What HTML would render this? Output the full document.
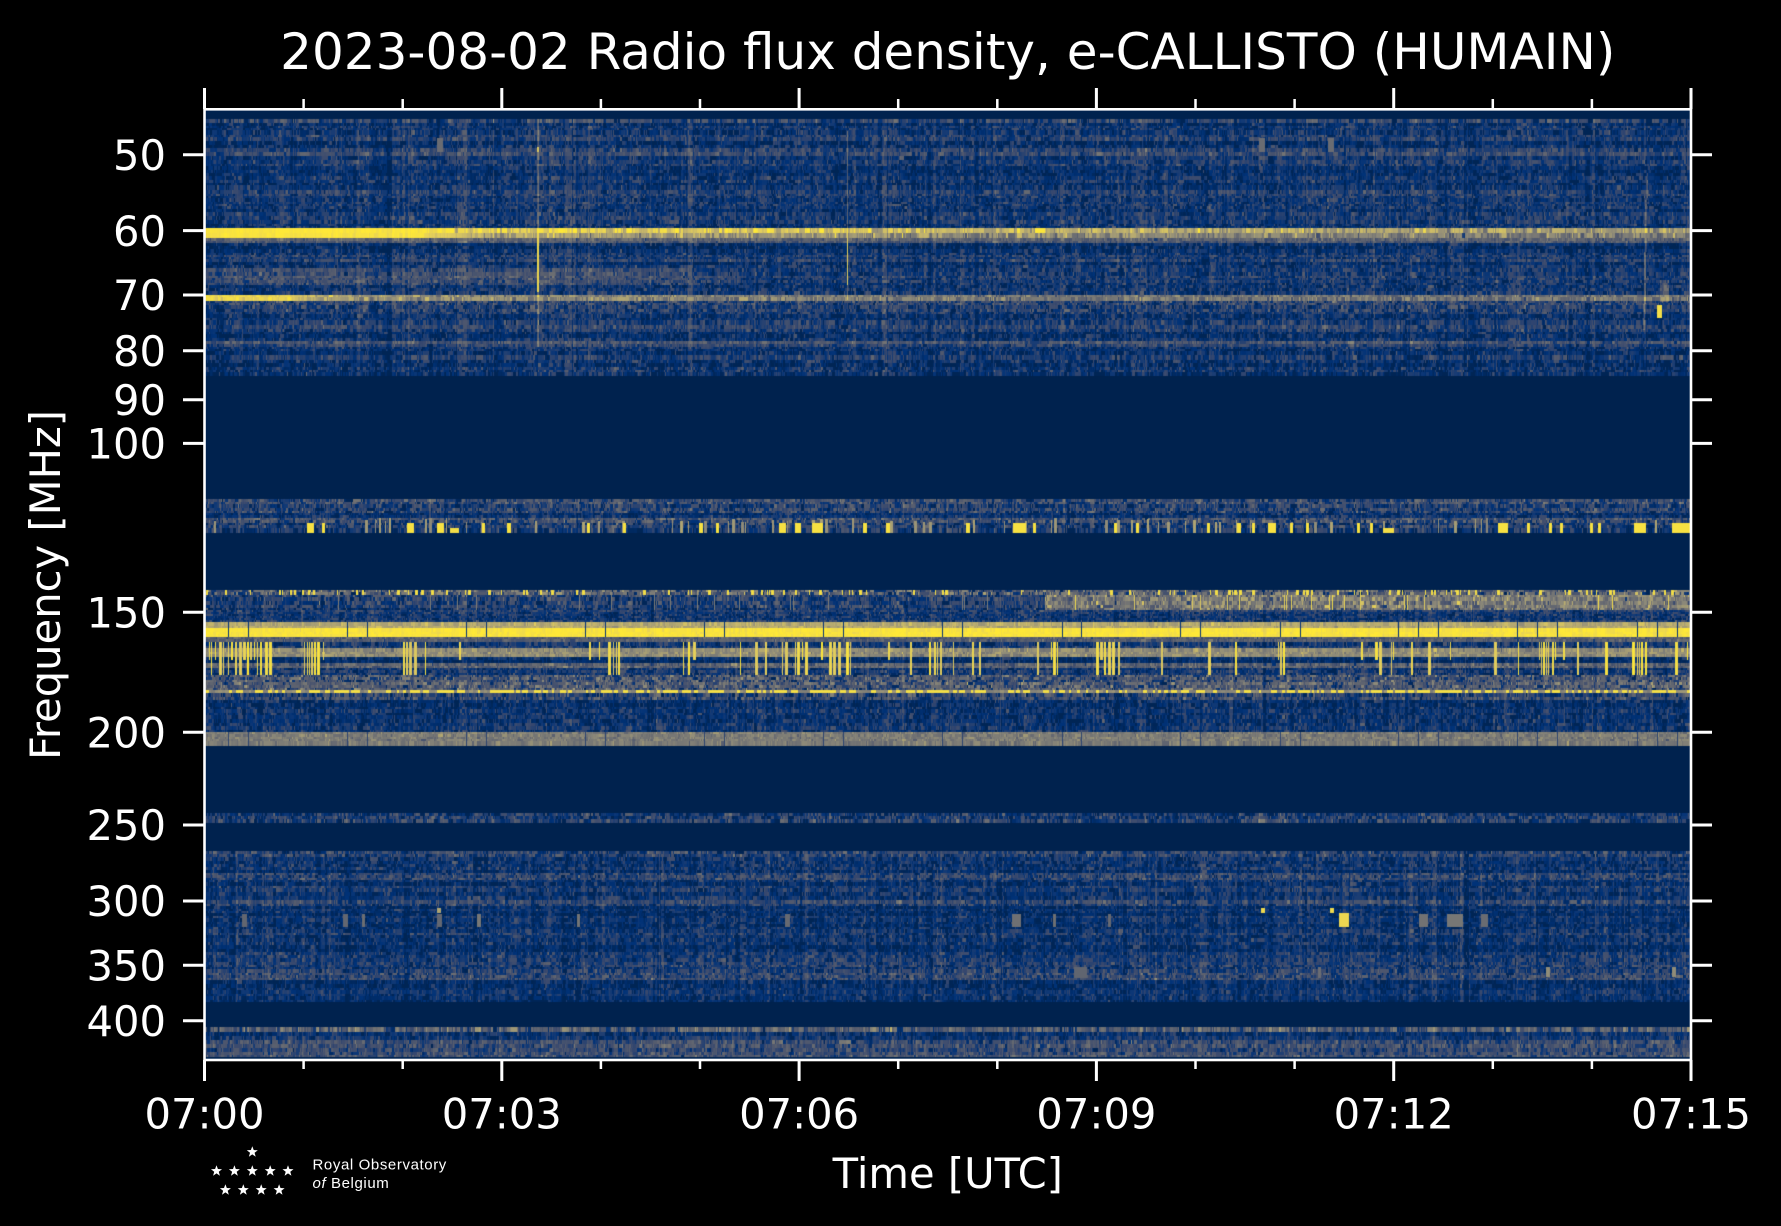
<!DOCTYPE html>
<html><head><meta charset="utf-8">
<style>
html,body{margin:0;padding:0;background:#000;}
#fig{position:relative;width:1781px;height:1226px;background:#000;overflow:hidden;}
#cv{position:absolute;left:205px;top:110px;width:1486px;height:949px;
background:linear-gradient(to bottom,#00224e 0,#00224e 9px,#173a6e 9px,#173a6e 118px,#d8c45a 118px,#d8c45a 128px,#173a6e 128px,#173a6e 185px,#8a8779 185px,#8a8779 190px,#173a6e 190px,#173a6e 266px,#00224e 266px,#00224e 389px,#2a4470 389px,#2a4470 423px,#00224e 423px,#00224e 480px,#555e6d 480px,#555e6d 485px,#1f3d6e 485px,#1f3d6e 512px,#c4b56c 512px,#c4b56c 518px,#f5e040 518px,#f5e040 527px,#575d6d 527px,#575d6d 532px,#2a4470 532px,#2a4470 565px,#8a8779 565px,#8a8779 580px,#1c3c6e 580px,#1c3c6e 622px,#8a8779 622px,#8a8779 636px,#00224e 636px,#00224e 703px,#2a4470 703px,#2a4470 713px,#00224e 713px,#00224e 741px,#1c3c6e 741px,#1c3c6e 892px,#00224e 892px,#00224e 917px,#2f4670 917px,#2f4670 947px,#00224e 947px);}
svg{position:absolute;left:0;top:0;}
</style></head><body>
<div id="fig">
<canvas id="cv" width="1486" height="949"></canvas>
<svg width="1781" height="1226" viewBox="0 0 1781 1226" xmlns="http://www.w3.org/2000/svg">
<defs><polygon id="st" points="0,-5.8 1.41,-1.94 5.52,-1.79 2.28,0.74 3.41,4.69 0,2.4 -3.41,4.69 -2.28,0.74 -5.52,-1.79 -1.41,-1.94" fill="#fff"/></defs>
<rect x="204.5" y="109.3" width="1486.5" height="950.7" fill="none" stroke="#fff" stroke-width="2.6"/>
<g stroke="#fff" stroke-width="3">
<path d="M204.5 1060V1081M501.8 1060V1081M799.1 1060V1081M1096.4 1060V1081M1393.7 1060V1081M1691 1060V1081"/>
<path d="M204.5 109V88M501.8 109V88M799.1 109V88M1096.4 109V88M1393.7 109V88M1691 109V88"/>
<path d="M204 154.8H183M204 230.6H183M204 295H183M204 350.7H183M204 399.7H183M204 443.4H183M204 612.3H183M204 732.2H183M204 825H183M204 901H183M204 965.3H183M204 1020.8H183"/>
<path d="M1691 154.8H1712M1691 230.6H1712M1691 295H1712M1691 350.7H1712M1691 399.7H1712M1691 443.4H1712M1691 612.3H1712M1691 732.2H1712M1691 825H1712M1691 901H1712M1691 965.3H1712M1691 1020.8H1712"/>
</g>
<g stroke="#fff" stroke-width="2.5">
<path d="M303.6 1060V1069M402.7 1060V1069M600.9 1060V1069M700 1060V1069M898.2 1060V1069M997.3 1060V1069M1195.5 1060V1069M1294.6 1060V1069M1492.8 1060V1069M1591.9 1060V1069"/>
<path d="M303.6 109V99M402.7 109V99M600.9 109V99M700 109V99M898.2 109V99M997.3 109V99M1195.5 109V99M1294.6 109V99M1492.8 109V99M1591.9 109V99"/>
</g>
<g fill="#fff" font-family="'DejaVu Sans','Liberation Sans',sans-serif">
<text x="947.8" y="69" font-size="50" text-anchor="middle">2023-08-02 Radio flux density, e-CALLISTO (HUMAIN)</text>
<g font-size="41.67" text-anchor="end">
<text x="166" y="170">50</text>
<text x="166" y="245.8">60</text>
<text x="166" y="310.2">70</text>
<text x="166" y="365.9">80</text>
<text x="166" y="414.9">90</text>
<text x="166" y="458.6">100</text>
<text x="166" y="627.5">150</text>
<text x="166" y="747.4">200</text>
<text x="166" y="840.2">250</text>
<text x="166" y="916.2">300</text>
<text x="166" y="980.5">350</text>
<text x="166" y="1036">400</text>
</g>
<g font-size="41.67" text-anchor="middle">
<text x="204.5" y="1128.5">07:00</text>
<text x="501.8" y="1128.5">07:03</text>
<text x="799.1" y="1128.5">07:06</text>
<text x="1096.4" y="1128.5">07:09</text>
<text x="1393.7" y="1128.5">07:12</text>
<text x="1691" y="1128.5">07:15</text>
<text x="947.8" y="1188">Time [UTC]</text>
<text transform="translate(60,585) rotate(-90)">Frequency [MHz]</text>
</g>
</g>
<g>
<use href="#st" x="252.3" y="1152"/>
<use href="#st" x="216.5" y="1171"/><use href="#st" x="234.4" y="1171"/><use href="#st" x="252.3" y="1171"/><use href="#st" x="270.2" y="1171"/><use href="#st" x="288" y="1171"/>
<use href="#st" x="225.4" y="1190"/><use href="#st" x="243.3" y="1190"/><use href="#st" x="261.2" y="1190"/><use href="#st" x="279.1" y="1190"/>
</g>
<g fill="#fff" font-family="'Liberation Sans',sans-serif" font-size="15" letter-spacing="0.6">
<text x="312.5" y="1169.5">Royal Observatory</text>
<text x="312.5" y="1188"><tspan font-style="italic">of</tspan> Belgium</text>
</g>
</svg>
</div>
<script>
(function(){
var cv=document.getElementById('cv');if(!cv.getContext)return;var ctx=cv.getContext('2d');
var W=1486,H=949,X0=205,Y0=110;
var seed=987654321;
function rnd(){seed^=seed<<13;seed>>>=0;seed^=seed>>>17;seed^=seed<<5;seed>>>=0;return seed/4294967296;}
function gauss(){var u=rnd()||1e-9,v=rnd();return Math.sqrt(-2*Math.log(u))*Math.cos(6.2831853*v);}
var stops=[[0,34,78],[0,50,120],[55,72,110],[85,92,110],[112,113,115],[138,135,121],[166,157,117],[196,181,108],[228,207,91],[254,232,56]];
var lut=[];for(var i=0;i<256;i++){var t=i/255*9,k=Math.min(8,Math.floor(t)),f=t-k;lut.push([Math.round(stops[k][0]+(stops[k+1][0]-stops[k][0])*f),Math.round(stops[k][1]+(stops[k+1][1]-stops[k][1])*f),Math.round(stops[k][2]+(stops[k+1][2]-stops[k][2])*f)]);}
function lin(pts){return function(x){if(x<=pts[0][0])return pts[0][1];for(var i=1;i<pts.length;i++){if(x<=pts[i][0]){var a=pts[i-1],b=pts[i];return a[1]+(b[1]-a[1])*(x-a[0])/(b[0]-a[0]);}}return pts[pts.length-1][1];};}
var V=new Float32Array(W*H);for(var p=0;p<W*H;p++)V[p]=-10;
var cn=[];for(var g=0;g<6;g++){var a=new Float32Array(W),c=0;for(var i=0;i<W;i++){if(rnd()<0.45)c=gauss()*0.035;a[i]=c;}cn.push(a);}
var f60a=lin([[205,0.99],[420,0.98],[480,0.9],[960,0.8],[1100,0.7],[1250,0.74],[1400,0.68],[1690,0.64]]);
var f60b=lin([[205,0.98],[420,0.96],[480,0.7],[960,0.58],[1690,0.52]]);
var s60=lin([[205,0.01],[420,0.02],[480,0.1],[1690,0.12]]);
var f70=lin([[205,0.93],[290,0.9],[320,0.65],[560,0.55],[960,0.48],[1690,0.46]]);
var s70=lin([[205,0.03],[290,0.05],[330,0.1],[1690,0.1]]);
var f268=lin([[205,0.27],[650,0.25],[750,0.16],[1690,0.16]]);
var fE1=function(x){return x<1045?0.16:0.47;};
var sE1=function(x){return x<1045?0.09:0.12;};
var segs=[
[119,123,0.24,0.1,0],[123,135,0.11,0.07,0],[135,141,0.18,0.07,0],[141,148,0.1,0.07,0],[148,156,0.24,0.07,0],[156,166,0.15,0.07,0],[166,176,0.1,0.06,0],[176,190,0.13,0.07,0],[190,196,0.19,0.07,0],[196,212,0.11,0.07,0],[212,220,0.18,0.07,0],[220,228,0.12,0.07,0],
[228,233,f60a,s60,0,1],[233,238,f60b,s60,0,1],[238,243,0.3,0.06,0],[243,255,0.12,0.07,0],[255,262,0.18,0.07,0],[262,268,0.11,0.07,0],[268,285,f268,0.07,0],[285,295,0.13,0.07,0],
[295,301,f70,s70,0,1],[301,312,0.2,0.09,0],[312,325,0.12,0.07,0],[325,332,0.18,0.07,0],[332,341,0.11,0.07,0],[341,347,0.24,0.07,0],[347,360,0.13,0.07,0],[360,376,0.12,0.08,0],
[499,504,0.22,0.1,1],[504,513,0.18,0.1,1],[513,518,0.09,0.06,1],[518,523,0.26,0.1,1],[523,533,0.15,0.09,1],
[590,595,0.36,0.16,2,1],[595,610,fE1,sE1,2],[610,622,0.15,0.07,2],[622,628,0.72,0.05,2,1],[628,637,0.98,0.02,2,1],[637,642,0.34,0.06,2,1],[642,648,0.17,0.07,2],[648,657,0.58,0.07,2,1],[657,663,0.08,0.05,2],[663,668,0.36,0.08,2],[668,675,0.14,0.07,2],[675,690,0.3,0.12,2],[690,693,0.5,0.1,2,1],[693,700,0.22,0.1,2],[700,732,0.12,0.07,2],[732,746,0.5,0.06,2,1],
[813,823,0.18,0.1,3],
[851,857,0.22,0.09,4],[857,873,0.13,0.07,4],[873,880,0.22,0.08,4],[880,900,0.13,0.07,4],[900,906,0.2,0.08,4],[906,913,0.11,0.06,4],[913,927,0.1,0.06,4],[927,945,0.13,0.07,4],[945,952,0.08,0.06,4],[952,965,0.15,0.07,4],[965,980,0.21,0.08,4],[980,1002,0.09,0.06,4],
[1027,1032,0.33,0.12,5],[1032,1040,0.1,0.06,5],[1040,1052,0.27,0.08,5],[1052,1057,0.27,0.08,5]
];
for(var s=0;s<segs.length;s++){var sg=segs[s];var y=sg[0];
 while(y<sg[1]){var h=2+Math.floor(rnd()*3);var y2=Math.min(sg[1],y+h);if(sg[1]-y2<2)y2=sg[1];
  var jit=sg[5]?0:gauss()*0.022;var cur=0;
  for(var i=0;i<W;i++){var x=X0+i;
   var m=(typeof sg[2]=='function')?sg[2](x):sg[2];var sd=(typeof sg[3]=='function')?sg[3](x):sg[3];
   if(i==0||rnd()<0.5)cur=gauss();
   var v=m+jit+cur*sd+(sg[5]?cn[sg[4]][i]*0.4:cn[sg[4]][i]);
   for(var yy=y;yy<y2;yy++)V[(yy-Y0)*W+i]=v;}
  y=y2;}}
function rect(x0,x1,y0,y1,val,mode){for(var y=Math.round(y0);y<Math.round(y1);y++){var row=(y-Y0)*W;for(var x=Math.round(x0);x<=Math.round(x1);x++){var i=x-X0;if(i<0||i>=W)continue;var id=row+i;if(mode=='add')V[id]+=val;else if(mode=='max')V[id]=Math.max(V[id],val);else V[id]=val;}}}
// vertical features top band
rect(537,538,119,347,0.26,'add');rect(537,538,228,292,0.92,'max');rect(537,538,147,152,0.85,'max');
rect(847,847,131,300,0.26,'add');rect(847,847,228,285,0.88,'max');
for(var y=173;y<330;y++){var xc=1646-3*(y-173)/157;rect(xc,xc+1,y,y+1,0.2,'add');}
rect(1660,1668,280,302,0.2,'add');rect(1657,1661,305,318,0.95,'max');
rect(437,442,138,152,0.42,'max');rect(1259,1264,138,152,0.42,'max');rect(1328,1333,138,152,0.42,'max');
rect(1193,1193,295,330,0.18,'add');
// yellow blobs band C
var bC=[[307,313],[322,324],[407,413],[437,443],[482,484],[507,510],[587,589],[623,625],[699,702],[716,718],[779,785],[795,800],[812,822],[863,866],[886,889],[966,969],[1013,1025],[1033,1035],[1114,1116],[1136,1138],[1207,1209],[1237,1240],[1252,1254],[1268,1275],[1290,1292],[1306,1308],[1357,1359],[1370,1372],[1498,1507],[1527,1529],[1549,1551],[1560,1562],[1590,1592],[1598,1600],[1634,1645],[1672,1691]];
for(var b=0;b<bC.length;b++)rect(bC[b][0],bC[b][1],523,533,0.97,'set');
rect(450,458,528,533,0.95,'set');rect(1383,1393,528,533,0.95,'set');
for(var i=0;i<W;i++){if(rnd()<0.05){var w=1+Math.floor(rnd()*3);rect(X0+i,X0+i+w-1,518+Math.floor(rnd()*5),533,0.55+rnd()*0.15,'max');i+=w;}}
// band E speckles row 590-595
for(var i=0;i<W;i++){if(rnd()<0.07){var w=1+Math.floor(rnd()*3);rect(X0+i,X0+i+w-1,590,595,0.95,'set');i+=w;}}
for(var i=0;i<W;i++){var x=X0+i;if(x>1045&&rnd()<0.03){rect(x,x,595,610,0.85+rnd()*0.1,'max');}}
for(var i=0;i<W;i++){var x=X0+i;if(x<1045&&rnd()<0.02){rect(x,x,595,610,0.5,'max');}}
// spikes 642-675
var cl=[[208,273],[304,324],[403,415],[608,619],[682,693],[795,807],[829,841],[926,943],[975,979],[1051,1062],[1096,1113],[1208,1212],[1278,1284],[1375,1386],[1407,1411],[1539,1556],[1602,1613],[1636,1647],[1674,1678]];
for(var i=0;i<W;i++){var x=X0+i,pp=0.018;for(var r=0;r<cl.length;r++){if(x>=cl[r][0]&&x<=cl[r][1]){pp=0.45;break;}}
 if(rnd()<pp){var w=1+Math.floor(rnd()*3);var vv=0.85+0.15*rnd();var ye=rnd()<0.75?675:660;rect(x,x+w-1,642,ye,vv,'max');i+=w;}}
// dotted line 690-693
for(var i=0;i<W;){var w=2+Math.floor(rnd()*3);var vv=rnd()<0.5?0.95:0.5+rnd()*0.15;rect(X0+i,X0+i+w-1,690,693,vv,'set');i+=w;}
// dark vertical lines
var dl=[228,248,347,367,466,486,585,605,704,724,823,843,942,962,1062,1081,1180,1200,1280,1300,1398,1418,1438,1517,1537,1557,1637,1657,1677];
for(var k=0;k<dl.length;k++){rect(dl[k],dl[k],622,637,0.12,'set');rect(dl[k],dl[k],732,746,0.2,'set');}
// band I blobs
var gI=[[242,246],[343,347],[362,364],[437,441],[477,480],[577,579],[785,789],[1012,1020],[1053,1055],[1108,1110],[1419,1427],[1447,1462],[1481,1487]];
for(var b=0;b<gI.length;b++)rect(gI[b][0],gI[b][1],914,927,0.38+rnd()*0.1,'max');
rect(437,440,908,913,0.7,'max');rect(1261,1264,908,913,0.93,'set');rect(1330,1333,908,913,0.93,'set');rect(1339,1348,913,927,0.92,'set');
rect(1074,1086,967,978,0.38,'max');rect(1318,1320,967,978,0.42,'max');rect(1546,1549,967,977,0.58,'max');rect(1672,1675,967,977,0.58,'max');
var img=ctx.createImageData(W,H),d=img.data;
for(var p=0;p<W*H;p++){var v=V[p],c;if(v<-5)c=lut[0];else{if(v<0.02)v=0.02;if(v>1)v=1;c=lut[Math.round(v*255)];}
 d[p*4]=c[0];d[p*4+1]=c[1];d[p*4+2]=c[2];d[p*4+3]=255;}
ctx.putImageData(img,0,0);
})();
</script>
</body></html>
